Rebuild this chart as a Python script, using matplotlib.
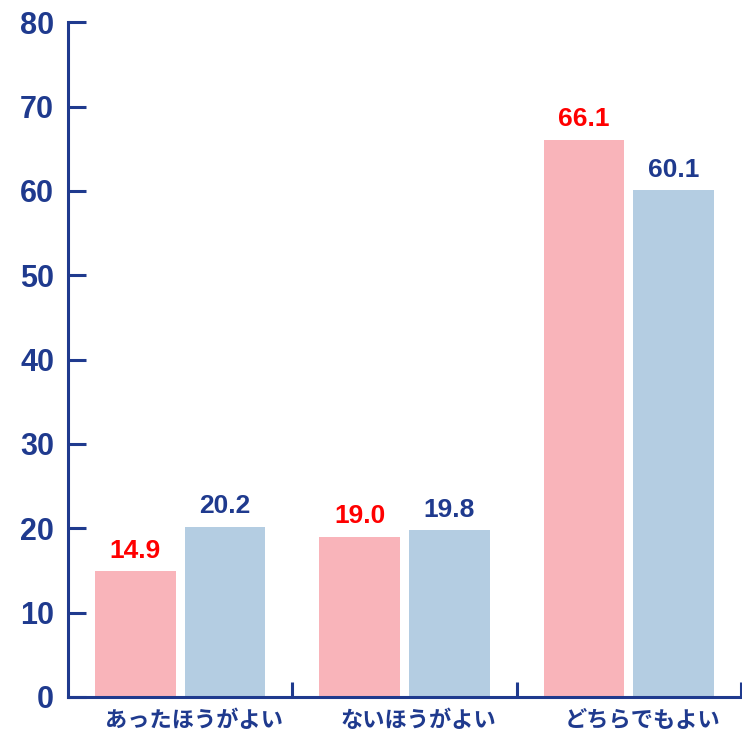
import matplotlib
matplotlib.use('Agg')
import matplotlib.pyplot as plt
import numpy as np

plt.rcParams['font.family'] = ['Liberation Sans', 'Noto Sans CJK JP', 'DejaVu Sans']

# data
categories = ['あったほうがよい', 'ないほうがよい', 'どちらでもよい']
series_a = [14.9, 19.0, 66.1]   # pink bars
series_b = [20.2, 19.8, 60.1]   # blue bars
y_ticks = [0, 10, 20, 30, 40, 50, 60, 70, 80]

navy = '#1f3a8e'
pink = '#f9b4ba'
blue = '#b4cde2'

fig = plt.figure(figsize=(7.42, 7.43), dpi=100)
ax = fig.add_axes([0.0916, 0.062, 0.907, 0.908])

x = np.arange(len(categories))
w = 0.36
off = 0.2
bars_a = ax.bar(x - off, series_a, width=w, color=pink, zorder=2)
bars_b = ax.bar(x + off, series_b, width=w, color=blue, zorder=2)

# value labels above bars
for b, v in zip(bars_a, series_a):
    ax.annotate(f'{v:.1f}', (b.get_x() + b.get_width() / 2, v), xytext=(0, 6),
                textcoords='offset points', ha='center', va='bottom',
                color='#ff0000', fontsize=19, fontweight='bold')
for b, v in zip(bars_b, series_b):
    ax.annotate(f'{v:.1f}', (b.get_x() + b.get_width() / 2, v), xytext=(0, 6),
                textcoords='offset points', ha='center', va='bottom',
                color=navy, fontsize=19, fontweight='bold')

ax.set_xlim(-0.5, 2.5)
ax.set_ylim(0, 80)

# axes styling
for s in ['top', 'right']:
    ax.spines[s].set_visible(False)
for s in ['left', 'bottom']:
    ax.spines[s].set_color(navy)
    ax.spines[s].set_linewidth(2.2)

ax.set_yticks(y_ticks)
ax.tick_params(axis='y', direction='in', length=13, width=2.2, color=navy,
               labelcolor=navy, labelsize=22, pad=10)
for t in ax.get_yticklabels():
    t.set_fontweight('bold')

# category separators as x ticks
ax.set_xticks([0.5, 1.5, 2.5])
ax.set_xticklabels([])
ax.tick_params(axis='x', direction='in', length=11, width=2.2, color=navy)

# category labels
for i, c in enumerate(categories):
    ax.text(i + 0.06, -2.8, c, ha='center', va='center', color=navy,
            fontsize=16, fontweight='bold', family=['Noto Sans CJK JP', 'DejaVu Sans'])

fig.savefig('out.png', dpi=100)
